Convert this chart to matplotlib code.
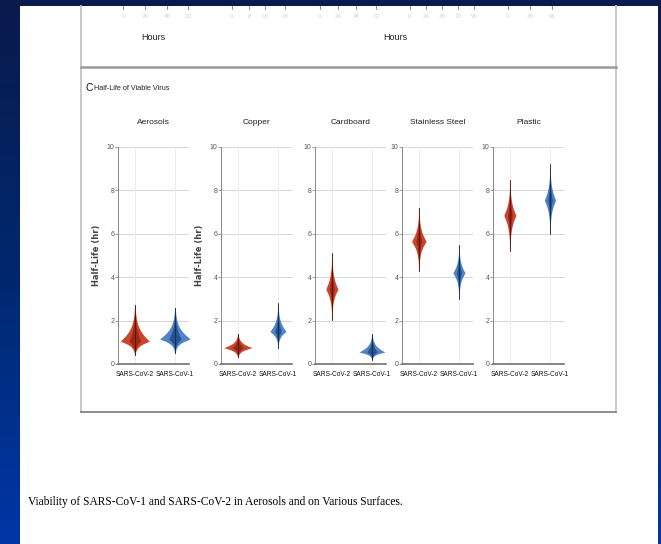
import numpy as np
import matplotlib
matplotlib.use('Agg')
import matplotlib.pyplot as plt
from matplotlib.colors import LinearSegmentedColormap

# -----------------------------
# Data: half-life posterior summaries (hours)
# -----------------------------
surfaces = ['Aerosols', 'Copper', 'Cardboard', 'Stainless Steel', 'Plastic']
viruses = ['SARS-CoV-2', 'SARS-CoV-1']

# median, lower and upper extent of each violin, [surface][virus]
cov2_median = [1.05, 0.75, 3.45, 5.65, 6.85]
cov2_lower = [0.40, 0.30, 2.05, 4.30, 5.20]
cov2_upper = [2.70, 1.40, 5.10, 7.20, 8.50]
cov1_median = [1.15, 1.50, 0.55, 4.20, 7.55]
cov1_lower = [0.50, 0.75, 0.20, 3.00, 6.00]
cov1_upper = [2.60, 2.80, 1.40, 5.50, 9.20]
# relative width of each violin (fraction of category slot)
cov2_width = [0.36, 0.35, 0.15, 0.18, 0.15]
cov1_width = [0.38, 0.20, 0.32, 0.15, 0.14]

yticks = [0, 2, 4, 6, 8, 10]

# faint, cropped tick labels of the panel above
top_tick_x = [123, 145, 167, 188, 232, 249, 265, 285, 320, 338, 356, 376,
              410, 426, 442, 458, 474, 508, 530, 552]
top_tick_lab = ['0', '24', '48', '72', '0', '8', '16', '24', '0', '24', '48', '72',
                '0', '24', '48', '72', '96', '0', '48', '96']

W, H = 661, 544
SANS = 'Liberation Sans'

fig = plt.figure(figsize=(W / 100, H / 100), dpi=100)

# -----------------------------
# Slide background + page
# -----------------------------
bg = fig.add_axes([0, 0, 1, 1])
bg.set_xlim(0, W)
bg.set_ylim(H, 0)
bg.axis('off')
slide_cmap = LinearSegmentedColormap.from_list('slide', ['#0a1a4c', '#00286f', '#0036a6'])
grad = np.linspace(0, 1, 256).reshape(-1, 1)
bg.imshow(grad, cmap=slide_cmap, extent=[0, W, H, 0], aspect='auto', zorder=0)
bg.add_patch(plt.Rectangle((20, 6), 638, H - 6, facecolor='white', edgecolor='none', zorder=1))

# figure panel frame
bg.plot([81, 81], [6, 412], color='#c4c4c4', lw=1.3, zorder=2)
bg.plot([616, 616], [6, 412], color='#c4c4c4', lw=1.3, zorder=2)
bg.plot([81, 616], [412, 412], color='#7a7a7a', lw=1.2, zorder=2)
bg.plot([81, 616], [67, 67], color='#9a9a9a', lw=1.8, zorder=2)

# remnants of the previous panel
for x, lab in zip(top_tick_x, top_tick_lab):
    bg.plot([x, x], [6, 9], color='#9a9a9a', lw=0.8, zorder=2)
    bg.text(x, 16, lab, ha='center', va='center', fontsize=4.5, color='#d2d2d2',
            family=SANS, zorder=2)
bg.text(153, 38, 'Hours', ha='center', va='center', fontsize=6.5, color='#222222',
        family=SANS, zorder=2)
bg.text(395, 38, 'Hours', ha='center', va='center', fontsize=6.5, color='#222222',
        family=SANS, zorder=2)

bg.text(85, 88, 'C', ha='left', va='center', fontsize=7.5, color='#111111',
        family=SANS, zorder=2)
bg.text(94, 88, 'Half-Life of Viable Virus', ha='left', va='center', fontsize=5.2,
        color='#222222', family=SANS, zorder=2)

bg.text(28, 502, 'Viability of SARS-CoV-1 and SARS-CoV-2 in Aerosols and on Various Surfaces.',
        ha='left', va='center', fontsize=8.3, color='#000000', family='Liberation Serif', zorder=2)

# -----------------------------
# Violin panels
# -----------------------------
ax_left = [118, 221, 315, 402, 493]
ax_w = 71
ax_top, ax_bot = 147, 364

red_out, red_in, red_line = '#c9462c', '#8e1f12', '#5a0e06'
blue_out, blue_in, blue_line = '#4f84c6', '#1f4682', '#0f2550'


def draw_violin(ax, xc, med, lo, hi, width, c_out, c_in, c_line):
    y = np.linspace(lo, hi, 300)
    d = np.where(y < med, (med - y) / (med - lo), (y - med) / (hi - med))
    prof = np.exp(-(3.2 * d) ** 1.15)
    ax.fill_betweenx(y, xc - width * prof, xc + width * prof, color=c_out, lw=0, zorder=3)
    ax.fill_betweenx(y, xc - 0.4 * width * prof, xc + 0.4 * width * prof, color=c_in,
                     lw=0, alpha=0.8, zorder=4)
    ax.plot([xc, xc], [lo, hi], color=c_line, lw=0.6, zorder=5)


for i, name in enumerate(surfaces):
    left = ax_left[i] / W
    bottom = 1 - ax_bot / H
    ax = fig.add_axes([left, bottom, ax_w / W, (ax_bot - ax_top) / H])
    ax.set_xlim(-0.42, 1.35)
    ax.set_ylim(0, 10)
    for yv in yticks[1:]:
        ax.axhline(yv, color='#d6d6d6', lw=0.7, zorder=1)
    for xv in range(len(viruses)):
        ax.axvline(xv, color='#ececec', lw=0.7, zorder=1)

    draw_violin(ax, 0, cov2_median[i], cov2_lower[i], cov2_upper[i], cov2_width[i],
                red_out, red_in, red_line)
    draw_violin(ax, 1, cov1_median[i], cov1_lower[i], cov1_upper[i], cov1_width[i],
                blue_out, blue_in, blue_line)

    for side in ['top', 'right']:
        ax.spines[side].set_visible(False)
    ax.spines['left'].set_color('#8a8a8a')
    ax.spines['left'].set_linewidth(0.7)
    ax.spines['bottom'].set_color('#6f6f6f')
    ax.spines['bottom'].set_linewidth(1.2)
    ax.set_yticks(yticks)
    ax.set_yticklabels([str(v) for v in yticks], family=SANS)
    ax.set_xticks(range(len(viruses)))
    ax.set_xticklabels(viruses, family=SANS)
    ax.tick_params(axis='y', length=2, width=0.6, color='#8a8a8a', labelsize=5,
                   labelcolor='#555555', pad=0.5)
    ax.tick_params(axis='x', length=0, labelsize=4.7, labelcolor='#111111', pad=5)
    ax.text(0.5, 1.115, name, transform=ax.transAxes, ha='center', va='center',
            fontsize=6, color='#222222', family=SANS)
    if i < 2:
        ax.set_ylabel('Half-Life (hr)', fontsize=6, fontweight='bold', color='#444444',
                      family='DejaVu Sans', labelpad=4)

fig.savefig('out.png', dpi=100)
